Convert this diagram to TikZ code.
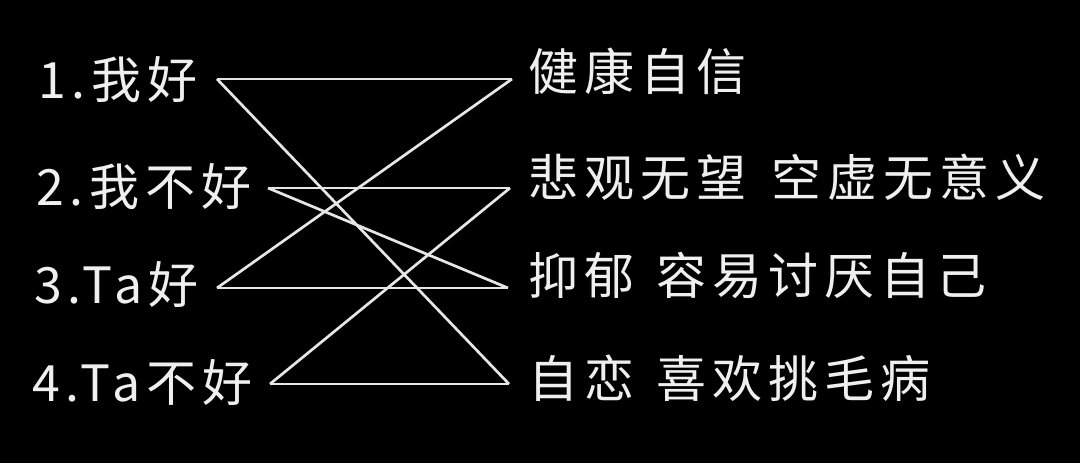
\documentclass[tikz,border=0pt]{standalone}
\usepackage{fontspec}
\setmainfont{Noto Sans CJK SC}[LetterSpace=12]
\definecolor{ink}{HTML}{EFEFEF}
\definecolor{wire}{HTML}{E6E6E6}
\begin{document}
\begin{tikzpicture}[x=1pt,y=-1pt,
  lab/.style={anchor=west,inner sep=0pt,text=ink,font=\fontsize{50}{58}\selectfont},
  wireline/.style={draw=wire,line width=2.7pt}]
\fill[black] (0,0) rectangle (1080,463);
\useasboundingbox (0,0) rectangle (1080,463);
% left labels
\node[lab] (l1) at (38,80) {1.我好};
\node[lab] (l2) at (36,187) {2.我不好};
\node[lab] (l3) at (34,285) {3.Ta好};
\node[lab] (l4) at (32,383) {4.Ta不好};
% right labels
\node[lab] (r1) at (528,71) {健康自信};
\node[lab] (r2) at (528,177) {悲观无望\hspace{0.5em}空虚无意义};
\node[lab] (r3) at (528,275) {抑郁\hspace{0.45em}容易讨厌自己};
\node[lab] (r4) at (528,378) {自恋\hspace{0.45em}喜欢挑毛病};
% endpoints
\coordinate (a1) at (217,79);
\coordinate (a2) at (268,188);
\coordinate (a3) at (217,288);
\coordinate (a4) at (270,384);
\coordinate (b1) at (512,79);
\coordinate (b2) at (510,188);
\coordinate (b3) at (508,288);
\coordinate (b4) at (509,384);
% connectors
\draw[wireline] (a1) -- (b1);
\draw[wireline] (a1) -- (b4);
\draw[wireline] (a2) -- (b2);
\draw[wireline] (a2) -- (b3);
\draw[wireline] (a3) -- (b3);
\draw[wireline] (a3) -- (b1);
\draw[wireline] (a4) -- (b4);
\draw[wireline] (a4) -- (b2);
\end{tikzpicture}
\end{document}
